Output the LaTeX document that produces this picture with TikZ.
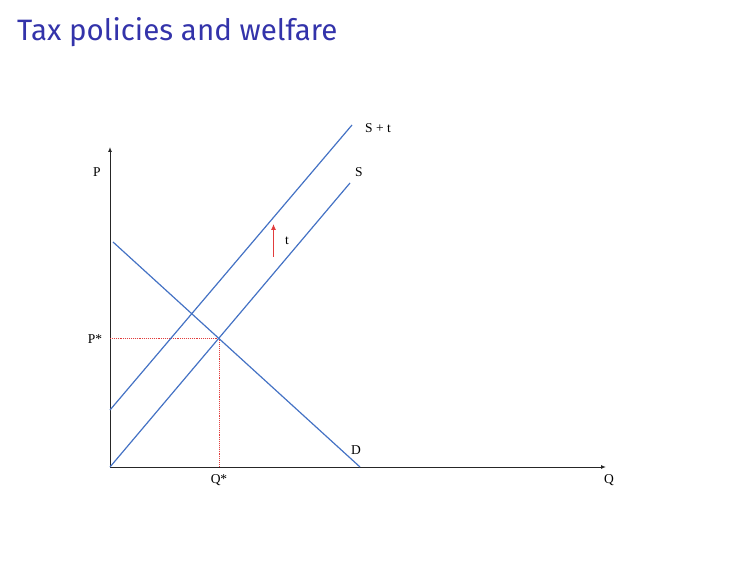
\documentclass[tikz,border=0pt]{standalone}
\usepackage{fontspec}
\setmainfont{Liberation Serif}
\newfontfamily\titlefont{Fira Sans}
\usetikzlibrary{arrows.meta}
\definecolor{titleblue}{RGB}{51,51,170}
\definecolor{curveblue}{RGB}{68,114,196}
\definecolor{dotred}{RGB}{225,60,60}
\begin{document}
\begin{tikzpicture}[x=1pt,y=-1pt,
  curve/.style={draw=curveblue, line width=1.2pt},
  axis/.style={draw=black!85, line width=1pt, -{Latex[length=5pt,width=4pt]}},
  guide/.style={draw=dotred, line width=0.9pt, densely dotted},
  taxarrow/.style={draw=dotred, line width=1pt, -{Latex[length=6pt,width=5pt]}},
  lbl/.style={font=\fontsize{13.5}{15}\selectfont, inner sep=0pt}]
\useasboundingbox (0,0) rectangle (756,567);
\node[anchor=west, text=titleblue, font=\titlefont\fontsize{29.5}{32}\selectfont, inner sep=0pt] (title) at (17,32) {Tax policies and welfare};
\coordinate (O) at (110,467);
\coordinate (Ytop) at (110,147);
\coordinate (Xend) at (606,467);
\draw[axis] (O) -- (Ytop);
\draw[axis] (O) -- (Xend);
\coordinate (D1) at (113,242);
\coordinate (D2) at (360,467);
\coordinate (S1) at (110,467);
\coordinate (S2) at (350,183);
\coordinate (T1) at (110,410);
\coordinate (T2) at (352,125);
\coordinate (E) at (219.5,338.5);
\coordinate (Pax) at (110,338.5);
\coordinate (Qax) at (219.5,467);
\draw[guide] (Pax) -- (E);
\draw[guide] (E) -- (Qax);
\draw[curve] (D1) -- (D2);
\draw[curve] (S1) -- (S2);
\draw[curve] (T1) -- (T2);
\coordinate (ta) at (273.5,257);
\coordinate (tb) at (273.5,224);
\draw[taxarrow] (ta) -- (tb);
\node[lbl] (lt) at (287,241) {t};
\node[lbl] (lSt) at (378,128) {S + t};
\node[lbl] (lS) at (359,172) {S};
\node[lbl] (lP) at (97,172) {P};
\node[lbl] (lPs) at (95,339) {P*};
\node[lbl] (lD) at (356,450) {D};
\node[lbl] (lQs) at (219,480) {Q*};
\node[lbl] (lQ) at (609,480) {Q};
\end{tikzpicture}
\end{document}
